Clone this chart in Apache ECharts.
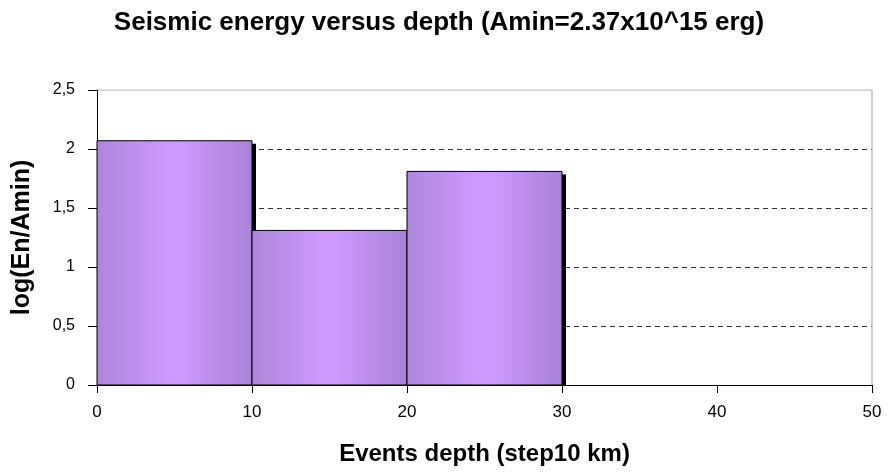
<!DOCTYPE html>
<html>
<head>
<meta charset="utf-8">
<script src="https://cdn.jsdelivr.net/npm/echarts@6/dist/echarts.min.js"></script>
<style>
  html, body { margin: 0; padding: 0; background: #fff; }
  #chart { width: 890px; height: 473px; }
</style>
</head>
<body>
<div id="chart"></div>
<script>
// Histogramme : energie sismique par tranche de profondeur
const binStart = [0, 10, 20];
const binEnd = [10, 20, 30];
const logEnergy = [2.07, 1.31, 1.81];
const yTicks = [0, 0.5, 1, 1.5, 2, 2.5];

const FONT = "Liberation Sans";

const barFill = {
  type: "linear", x: 0, y: 0, x2: 1, y2: 0,
  colorStops: [
    { offset: 0, color: "#ad87db" },
    { offset: 0.45, color: "#cc99ff" },
    { offset: 0.55, color: "#cc99ff" },
    { offset: 1, color: "#a882d8" }
  ]
};

const chart = echarts.init(document.getElementById("chart"));

chart.setOption({
  animation: false,
  title: {
    text: "Seismic energy versus depth (Amin=2.37x10^15 erg)",
    left: 434,
    textAlign: "center",
    top: 5,
    textStyle: { fontFamily: FONT, fontSize: 26, fontWeight: "bold", color: "#000" }
  },
  grid: { left: 97, right: 18, top: 90, bottom: 88, show: false },
  xAxis: {
    type: "value",
    min: 0,
    max: 50,
    interval: 10,
    name: "Events depth (step10 km)",
    nameLocation: "middle",
    nameGap: 57,
    nameTextStyle: { fontFamily: FONT, fontSize: 24, fontWeight: "bold", color: "#000" },
    axisLine: { lineStyle: { color: "#000", width: 1 } },
    axisTick: { length: 8, lineStyle: { color: "#000" } },
    axisLabel: { margin: 19, fontFamily: FONT, fontSize: 17, color: "#000" },
    splitLine: { show: false }
  },
  yAxis: {
    type: "value",
    min: yTicks[0],
    max: yTicks[yTicks.length - 1],
    interval: 0.5,
    name: "log(En/Amin)",
    nameLocation: "middle",
    nameGap: 62,
    nameTextStyle: { fontFamily: FONT, fontSize: 25, fontWeight: "bold", color: "#000" },
    axisLine: { show: true, lineStyle: { color: "#000", width: 1 } },
    axisTick: { show: true, length: 9, lineStyle: { color: "#000" } },
    axisLabel: {
      margin: 22,
      fontFamily: FONT,
      fontSize: 16,
      color: "#000",
      formatter: (v) => String(v).replace(".", ",")
    },
    splitLine: {
      show: true,
      showMinLine: false,
      showMaxLine: false,
      lineStyle: { color: "#333", type: [5, 4], width: 1 }
    }
  },
  series: [
    {
      // cadre gris haut / droite de la zone de trace
      type: "line",
      data: [[0, 2.5], [50, 2.5], [50, 0]],
      symbol: "none",
      silent: true,
      lineStyle: { color: "#a0a0a0", width: 1 },
      z: 1
    },
    {
      type: "custom",
      data: binStart.map((s, i) => [s, binEnd[i], logEnergy[i]]),
      encode: { x: [0, 1], y: 2 },
      renderItem: (params, api) => {
        const p0 = api.coord([api.value(0), api.value(2)]);
        const p1 = api.coord([api.value(1), 0]);
        const x = p0[0], y = p0[1];
        const w = p1[0] - p0[0], h = p1[1] - p0[1];
        return {
          type: "group",
          children: [
            {
              type: "rect",
              shape: { x: x + w, y: y + 3, width: 4, height: h - 3 },
              style: { fill: "#000" }
            },
            {
              type: "rect",
              shape: { x, y, width: w, height: h },
              style: { fill: barFill, stroke: "#000", lineWidth: 1 }
            }
          ]
        };
      },
      z: 3
    }
  ]
});
</script>
</body>
</html>
